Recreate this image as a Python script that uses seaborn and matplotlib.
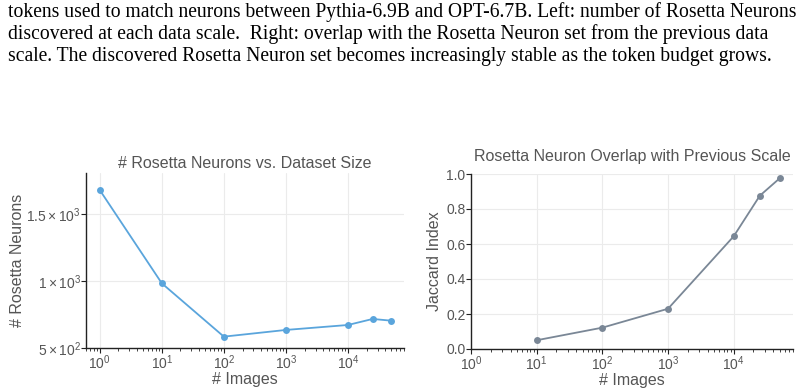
import numpy as np
import pandas as pd
import matplotlib
matplotlib.use("Agg")
import matplotlib.pyplot as plt
import seaborn as sns

# data
images_left = [1, 10, 100, 1000, 10000, 25000, 50000]
n_neurons = [1681, 985, 587, 637, 674, 719, 706]

images_right = [10, 100, 1000, 10000, 25000, 50000]
jaccard = [0.05, 0.122, 0.23, 0.644, 0.876, 0.975]

caption = [
    "tokens used to match neurons between Pythia-6.9B and OPT-6.7B. Left: number of Rosetta Neurons",
    "discovered at each data scale.  Right: overlap with the Rosetta Neuron set from the previous data",
    "scale. The discovered Rosetta Neuron set becomes increasingly stable as the token budget grows.",
]

sns.set_style("whitegrid")
plt.rcParams['font.family'] = ['Liberation Sans', 'DejaVu Sans']
plt.rcParams['mathtext.fontset'] = 'custom'
plt.rcParams['mathtext.rm'] = 'Liberation Sans'
plt.rcParams['mathtext.it'] = 'Liberation Sans:italic'
plt.rcParams['mathtext.bf'] = 'Liberation Sans:bold'

text_col = '#555555'
grid_col = '#ebebeb'

fig = plt.figure(figsize=(8.04, 3.91), dpi=100)

# caption lines (paper text above the figure)
for i, line in enumerate(caption):
    fig.text(8 / 804, 1 - (17.3 + 21.9 * i) / 391, line, family='Liberation Serif',
             fontsize=14.1, color='black', va='baseline', ha='left')

ax1 = fig.add_axes([86 / 804, 1 - 348.3 / 391, 318 / 804, 175 / 391])
ax2 = fig.add_axes([471 / 804, 1 - 349 / 391, 322 / 804, 175 / 391])

df1 = pd.DataFrame({'images': images_left, 'neurons': n_neurons})
df2 = pd.DataFrame({'images': images_right, 'jaccard': jaccard})

sns.lineplot(data=df1, x='images', y='neurons', ax=ax1, color='#5aa5dc',
             marker='o', markersize=5, markeredgewidth=0, linewidth=1.3)
sns.lineplot(data=df2, x='images', y='jaccard', ax=ax2, color='#7a8796',
             marker='o', markersize=5, markeredgewidth=0, linewidth=1.3)

for ax in (ax1, ax2):
    ax.set_xscale('log')
    ax.grid(True, color=grid_col, linewidth=0.8)
    ax.set_axisbelow(True)
    for s in ['top', 'right']:
        ax.spines[s].set_visible(False)
    for s in ['left', 'bottom']:
        ax.spines[s].set_color('#222222')
        ax.spines[s].set_linewidth(1.0)
    ax.tick_params(which='major', direction='out', length=3.5, width=0.8,
                   color='#222222', labelcolor=text_col, labelsize=10,
                   bottom=True, left=True, pad=0.5)
    ax.tick_params(which='minor', direction='out', length=2, width=0.6,
                   color='#222222', bottom=True)
    ax.set_xlabel('# Images', fontsize=11.5, color=text_col, labelpad=0)

ax1.set_xlim(0.6, 8e4)
ax1.set_ylim(500, 1806)
ax1.set_yticks([500, 1000, 1500])
ax1.set_yticklabels([r'$5\times10^{2}$', r'$1\times10^{3}$', r'$1.5\times10^{3}$'])
ax1.set_ylabel('# Rosetta Neurons', fontsize=11.5, color=text_col, labelpad=1)
ax1.set_title('# Rosetta Neurons vs. Dataset Size', fontsize=11.5, color=text_col, pad=4)

ax2.set_xlim(1, 8e4)
ax2.set_ylim(0, 1.0)
ax2.set_yticks([0, 0.2, 0.4, 0.6, 0.8, 1.0])
ax2.set_yticklabels(['0.0', '0.2', '0.4', '0.6', '0.8', '1.0'])
ax2.set_ylabel('Jaccard Index', fontsize=11.5, color=text_col, labelpad=3)
ax2.set_title('Rosetta Neuron Overlap with Previous Scale', fontsize=11.5, color=text_col, pad=9)

fig.savefig('out.png', dpi=100)
